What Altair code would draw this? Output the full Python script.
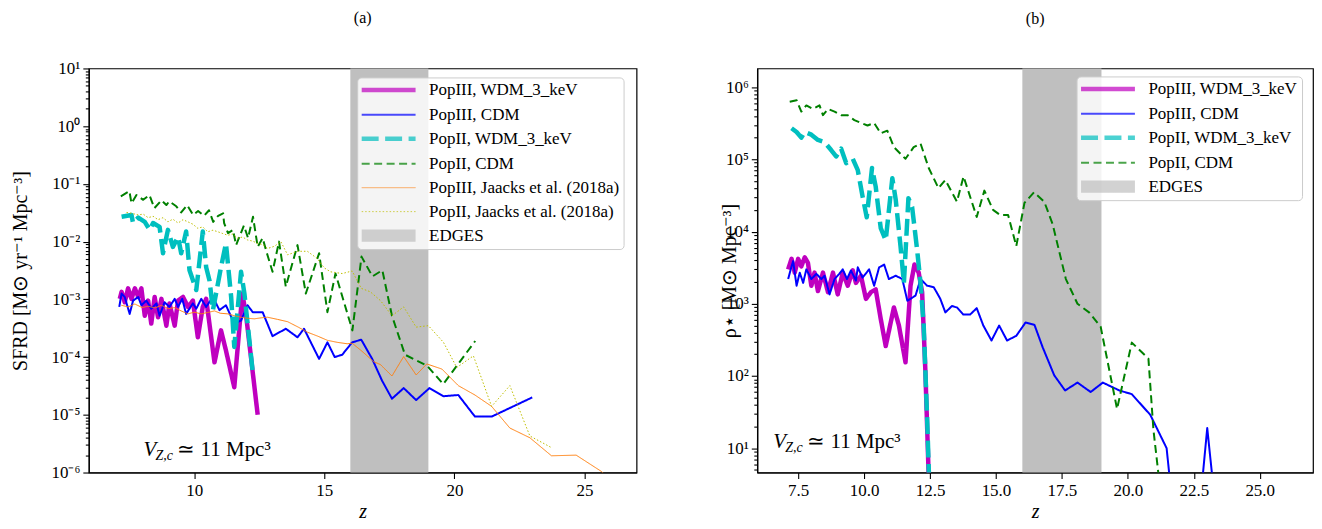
import altair as alt
import pandas as pd

FONT = "Liberation Serif"

# ---------------- panel (a): SFRD ----------------
a_names = ["PopIII, WDM_3_keV", "PopIII, CDM", "PopII, WDM_3_keV", "PopII, CDM",
           "PopIII, Jaacks et al. (2018a)", "PopII, Jaacks et al. (2018a)", "EDGES"]
a_colors = ["#bf00bf", "#0000ff", "#00bfbf", "#008000", "#ff7f0e", "#bfbf00", "#bfbfbf"]
a_dashes = [[1, 0], [1, 0], [17, 6.5], [8, 4.5], [1, 0], [1.5, 2], [1, 0]]
a_widths = [4.5, 2, 4.5, 2, 1, 1, 2.2]

a_p3wdm_z = [7.14, 7.21, 7.33, 7.46, 7.59, 7.72, 7.85, 7.97, 8.10, 8.23, 8.35, 8.48, 8.61, 8.74,
             8.93, 9.05, 9.25, 9.38, 9.57, 9.76, 9.95, 10.14, 10.33, 10.46, 10.78, 11.03, 11.22,
             11.54, 11.85, 12.00, 12.44]
a_p3wdm_v = [1.02e-3, 1.35e-3, 8.9e-4, 1.55e-3, 1.02e-3, 1.55e-3, 1.1e-3, 1.55e-3, 5.2e-4, 9.5e-4,
             3.8e-4, 1.1e-3, 4.9e-4, 1.02e-3, 3.5e-4, 8.5e-4, 3.5e-4, 9.5e-4, 1.1e-3, 7.4e-4,
             9.5e-4, 2.2e-4, 7.4e-4, 1.02e-3, 8.1e-5, 2.9e-4, 1.3e-4, 3.0e-5, 1.26e-3, 5.0e-4, 1.0e-5]

a_p3cdm_z = [7.12, 7.21, 7.33, 7.52, 7.65, 7.85, 7.97, 8.16, 8.35, 8.55, 8.67, 8.86, 9.05, 9.25,
             9.38, 9.54, 9.69, 9.95, 10.08, 10.27, 10.46, 10.72, 10.97, 11.22, 11.54, 11.80, 12.05,
             12.25, 12.63, 13.01, 13.52, 13.97, 14.22, 14.80, 15.12, 15.40, 15.69, 16.07, 16.42,
             16.84, 17.22, 17.60, 18.05, 18.53, 19.04, 19.58, 20.15, 20.79, 21.43, 22.99]
a_p3cdm_v = [7.4e-4, 1.26e-3, 1.1e-3, 5.6e-4, 9.5e-4, 1.1e-3, 7.9e-4, 9.5e-4, 6.9e-4, 8.5e-4,
             5.2e-4, 8.9e-4, 7.4e-4, 1.02e-3, 7.4e-4, 1.02e-3, 5.6e-4, 8.5e-4, 6.9e-4, 1.02e-3,
             7.4e-4, 1.1e-3, 6.5e-4, 7.9e-4, 3.8e-4, 4.3e-4, 7.9e-4, 6.0e-4, 6.0e-4, 2.3e-4,
             3.1e-4, 2.2e-4, 3.1e-4, 9.3e-5, 1.8e-4, 1.0e-4, 1.1e-4, 1.8e-4, 2.0e-4, 9.3e-5,
             3.9e-5, 1.9e-5, 2.9e-5, 1.8e-5, 2.9e-5, 2.1e-5, 2.2e-5, 9.3e-6, 9.3e-6, 2.0e-5]

a_p2wdm_z = [7.21, 7.59, 7.65, 7.85, 8.10, 8.29, 8.42, 8.67, 8.80, 8.99, 9.18, 9.38, 9.50, 9.69,
             9.82, 10.08, 10.33, 10.46, 10.59, 10.72, 11.03, 11.22, 11.42, 11.54, 11.80, 11.93, 12.25]
a_p2wdm_v = [2.7e-2, 2.9e-2, 2.1e-2, 2.6e-2, 2.2e-2, 1.6e-2, 2.1e-2, 1.8e-2, 6.3e-3, 1.6e-2,
             8.1e-3, 1.2e-2, 6.3e-3, 1.5e-2, 3.2e-3, 1.45e-3, 1.5e-2, 3.6e-3, 2.1e-3, 6.5e-4,
             3.6e-3, 9.3e-3, 1.1e-3, 1.5e-4, 3.0e-3, 1.26e-3, 5.5e-5]

a_p2cdm_z = [7.18, 7.51, 7.59, 7.78, 8.04, 8.28, 8.47, 8.74, 8.93, 9.04, 9.31, 9.50, 9.73, 9.96,
             10.15, 10.38, 10.57, 10.73, 10.92, 11.11, 11.15, 11.30, 11.49, 11.61, 11.91, 12.07,
             12.26, 12.44, 12.63, 12.76, 13.01, 13.26, 13.52, 13.97, 14.29, 14.80, 15.12, 15.43,
             16.08, 16.43, 16.85, 17.23, 17.60, 18.10, 18.95, 19.57, 20.80]
a_p2cdm_v = [0.061, 0.075, 0.046, 0.064, 0.053, 0.064, 0.038, 0.052, 0.043, 0.050, 0.041, 0.032,
             0.043, 0.029, 0.034, 0.028, 0.035, 0.022, 0.028, 0.031, 0.021, 0.014, 0.016, 0.0087,
             0.019, 0.0115, 0.027, 8.1e-3, 0.0115, 7.1e-3, 3.0e-3, 0.010, 1.66e-3, 8.7e-3, 1.26e-3,
             6.3e-3, 6.0e-4, 2.8e-3, 2.9e-4, 5.5e-3, 2.5e-3, 3.2e-3, 5.2e-4, 1.1e-4, 7.1e-5,
             3.4e-5, 1.9e-4]

a_p3j_z = [7.20, 7.46, 7.72, 8.00, 8.23, 8.50, 8.74, 9.00, 9.25, 9.50, 9.76, 10.00, 10.27, 10.50,
           10.78, 11.00, 11.29, 11.55, 11.80, 12.05, 12.31, 12.60, 12.82, 13.20, 13.59, 14.00,
           14.35, 14.75, 15.12, 15.50, 15.88, 16.07, 16.45, 16.90, 17.16, 17.60, 18.05, 18.53,
           18.94, 19.52, 20.15, 20.79, 21.43, 22.13, 22.90, 23.73, 24.68, 25.64, 26.20]
a_p3j_v = [7.9e-4, 7.4e-4, 8.3e-4, 7.2e-4, 7.6e-4, 7.1e-4, 7.9e-4, 6.9e-4, 7.2e-4, 6.3e-4,
           5.6e-4, 6.0e-4, 5.6e-4, 5.9e-4, 6.3e-4, 5.75e-4, 5.6e-4, 5.2e-4, 4.9e-4, 4.7e-4,
           4.6e-4, 4.8e-4, 4.9e-4, 4.5e-4, 4.1e-4, 3.3e-4, 2.7e-4, 2.3e-4, 1.95e-4, 1.8e-4,
           1.7e-4, 1.74e-4, 1.26e-4, 8.3e-5, 7.4e-5, 4.7e-5, 1.02e-4, 4.9e-5, 7.6e-5, 6.2e-5,
           3.2e-5, 2.2e-5, 1.4e-5, 5.9e-6, 4.0e-6, 1.95e-6, 2.0e-6, 1.05e-6, 6.3e-7]

a_p2j_z = [7.40, 7.59, 7.85, 8.04, 8.23, 8.42, 8.61, 8.80, 8.99, 9.18, 9.38, 9.57, 9.76, 9.95,
           10.14, 10.33, 10.52, 10.72, 10.91, 11.10, 11.29, 11.48, 11.67, 11.86, 12.05, 12.25,
           12.44, 12.63, 12.82, 13.08, 13.33, 13.59, 13.97, 14.35, 14.73, 15.00, 15.24, 15.69,
           16.07, 16.42, 16.77, 17.16, 17.60, 18.05, 18.53, 19.00, 19.58, 20.09, 20.73, 21.43,
           22.13, 22.90, 23.73]
a_p2j_v = [0.032, 0.031, 0.029, 0.030, 0.026, 0.0275, 0.024, 0.026, 0.022, 0.0245, 0.021, 0.024,
           0.022, 0.020, 0.017, 0.018, 0.0148, 0.0158, 0.0148, 0.0138, 0.0129, 0.0135, 0.0115,
           0.012, 0.0107, 0.0102, 9.3e-3, 8.9e-3, 7.6e-3, 8.3e-3, 0.010, 5.9e-3, 6.8e-3, 6.8e-3,
           5.1e-3, 3.5e-3, 3.0e-3, 2.8e-3, 3.1e-3, 1.55e-3, 1.35e-3, 9.5e-4, 5.2e-4, 7.4e-4,
           3.3e-4, 3.5e-4, 1.8e-4, 6.6e-5, 1.05e-4, 1.4e-5, 3.2e-5, 4.3e-6, 2.7e-6]

# ---------------- panel (b): stellar mass density ----------------
b_names = ["PopIII, WDM_3_keV", "PopIII, CDM", "PopII, WDM_3_keV", "PopII, CDM", "EDGES"]
b_colors = ["#bf00bf", "#0000ff", "#00bfbf", "#008000", "#bfbfbf"]
b_dashes = [[1, 0], [1, 0], [17, 6.5], [8, 4.5], [1, 0]]
b_widths = [4.5, 2, 4.5, 2, 2.2]

b_p3wdm_z = [7.12, 7.25, 7.37, 7.50, 7.62, 7.75, 7.87, 8.00, 8.12, 8.25, 8.44, 8.63, 8.82, 9.00,
             9.19, 9.38, 9.57, 9.69, 9.88, 10.07, 10.26, 10.44, 10.63, 10.82, 11.13, 11.32, 11.57,
             11.76, 11.91, 12.07, 12.20, 12.32, 12.45]
b_p3wdm_v = [3.0e3, 4.2e3, 2.7e3, 4.2e3, 3.3e3, 4.4e3, 3.7e3, 1.78e3, 2.7e3, 1.5e3, 2.7e3, 1.45e3,
             2.7e3, 1.35e3, 2.7e3, 1.78e3, 2.9e3, 1.95e3, 2.45e3, 1.17e3, 1.45e3, 1.58e3, 620, 260,
             890, 500, 155, 1.78e3, 3.5e3, 2.7e3, 1.45e3, 126, 4.0]

b_p3cdm_z = [7.12, 7.25, 7.31, 7.44, 7.56, 7.69, 7.81, 8.00, 8.19, 8.38, 8.50, 8.69, 8.88, 9.06,
             9.19, 9.35, 9.50, 9.69, 9.76, 9.94, 10.19, 10.38, 10.57, 10.76, 10.94, 11.20, 11.45,
             11.64, 11.95, 12.14, 12.39, 12.64, 12.89, 13.08, 13.33, 13.52, 13.76, 14.02, 14.27,
             14.52, 14.83, 15.12, 15.42, 15.77, 16.12, 16.46, 16.77, 17.21, 17.62, 18.09, 18.59,
             19.05, 19.68, 20.15, 20.85, 21.47, 21.75, 22.68, 23.01, 23.19, 23.30]
b_p3cdm_v = [2.2e3, 3.3e3, 3.9e3, 1.78e3, 2.7e3, 1.95e3, 3.0e3, 2.2e3, 2.6e3, 2.2e3, 2.45e3, 1.35e3,
             2.2e3, 2.6e3, 3.0e3, 2.2e3, 2.9e3, 2.1e3, 3.2e3, 2.3e3, 3.0e3, 1.78e3, 3.2e3, 3.5e3,
             2.2e3, 2.45e3, 2.2e3, 1.1e3, 1.3e3, 2.2e3, 1.78e3, 1.7e3, 1.17e3, 760, 930, 890, 710,
             710, 870, 500, 310, 500, 310, 360, 550, 510, 250, 102, 63, 81, 60, 81, 63, 56, 29, 10,
             1.0, 1.0, 19, 4.4, 1.5]

b_p2wdm_z = [7.25, 7.44, 7.62, 7.75, 8.00, 8.25, 8.50, 8.75, 8.94, 9.13, 9.32, 9.57, 9.76, 9.94,
             10.10, 10.30, 10.44, 10.63, 10.82, 11.07, 11.20, 11.38, 11.51, 11.68, 11.82, 12.01,
             12.14, 12.26, 12.39, 12.47]
b_p2wdm_v = [2.7e5, 2.4e5, 2.0e5, 2.4e5, 2.2e5, 1.86e5, 1.74e5, 1.35e5, 1.1e5, 1.41e5, 8.9e4,
             1.02e5, 7.1e4, 3.1e4, 1.58e4, 7.6e4, 4.2e4, 1.12e4, 7.6e3, 5.5e4, 2.75e4, 6.3e3,
             1.95e3, 2.9e4, 2.2e4, 5.6e3, 1.95e3, 500, 26, 3.2]

b_p2cdm_z = [7.18, 7.44, 7.62, 7.81, 8.06, 8.31, 8.44, 8.63, 8.88, 9.13, 9.38, 9.63, 9.88, 10.13,
             10.38, 10.63, 10.88, 11.13, 11.57, 11.88, 12.14, 12.45, 12.82, 13.08, 13.52, 13.77,
             14.27, 14.56, 14.89, 15.16, 15.46, 15.77, 16.08, 16.44, 16.83, 17.15, 17.65, 18.09,
             18.53, 18.97, 19.59, 20.15, 20.78, 20.97, 21.16, 21.30]
b_p2cdm_v = [6.3e5, 6.6e5, 4.6e5, 5.6e5, 5.0e5, 5.6e5, 4.1e5, 5.0e5, 4.6e5, 4.1e5, 4.1e5, 3.5e5,
             3.2e5, 2.95e5, 3.2e5, 2.3e5, 2.5e5, 1.48e5, 1.02e5, 1.48e5, 1.66e5, 7.6e4, 4.0e4,
             5.2e4, 2.6e4, 5.8e4, 1.6e4, 3.7e4, 2.0e4, 1.7e4, 1.7e4, 6.3e3, 2.5e4, 3.5e4, 2.6e4,
             1.26e4, 2.2e3, 1.0e3, 760, 480, 35, 290, 174, 18, 4.4, 1.5]

edges_z = [16.0, 19.0]
a_xticks = [10, 15, 20, 25]
b_xticks = [7.5, 10.0, 12.5, 15.0, 17.5, 20.0, 22.5, 25.0]
a_xdom, a_ydom = [5.95, 27.0], [1e-6, 10]
b_xdom, b_ydom = [5.95, 27.02], [4.6, 1.82e6]

LOG = "(log(datum.value)/LN10)"
DEC = f"abs({LOG} - round({LOG})) < 1e-6"
SUP = "['10⁻⁶','10⁻⁵','10⁻⁴','10⁻³','10⁻²','10⁻¹','10⁰','10¹','10²','10³','10⁴','10⁵','10⁶']"
LABEL_EXPR = f"{DEC} ? {SUP}[round({LOG}) + 6] : ''"

# legend swatches: a plain stroke for the lines, a stack of strokes (a filled box) for EDGES
SYM_LINE = "M-8,0H46"
SYM_BOX = "M-8,-5H46M-8,-3H46M-8,-1H46M-8,1H46M-8,3H46M-8,5H46"


def log_ticks(lo, hi):
    out = []
    for k in range(-7, 8):
        for m in range(1, 10):
            v = m * 10.0 ** k
            if lo <= v <= hi * 1.0000001:
                out.append(v)
    return out


def axis_common():
    return dict(labelFont=FONT, labelFontSize=17, labelColor="black", titleFont=FONT,
                titleFontSize=20, titleFontWeight="normal", titleColor="black",
                tickColor="black", domainColor="black", domainWidth=1.2, tickWidth=1.1,
                grid=False)


def make_panel(series, names, colors, dashes, widths, xdom, ydom, xticks, xfmt, ytitle,
               title, w, h, leg_xy, annot_xy, y_title_x, title_offset):
    xaxis = alt.Axis(title="z", values=xticks, format=xfmt, titleFontStyle="italic",
                     tickSize=6, labelPadding=4, titleY=39, titleBaseline="middle",
                     **axis_common())
    yaxis = alt.Axis(title=ytitle, values=log_ticks(ydom[0], ydom[1]), labelExpr=LABEL_EXPR,
                     labelOverlap=False, labelPadding=3, titleX=y_title_x, titleY=h / 2,
                     titleBaseline="middle", titleAlign="center", titleAngle=270,
                     tickSize={"condition": {"test": DEC, "value": 6}, "value": 3.5},
                     **axis_common())
    xs = alt.Scale(domain=xdom, nice=False, zero=False)
    ys = alt.Scale(type="log", domain=ydom, nice=False)
    legend = alt.Legend(
        title=None, orient="none", legendX=leg_xy[0], legendY=leg_xy[1],
        symbolType=SYM_LINE, symbolSize=4, symbolFillColor="transparent",
        labelFont=FONT, labelFontSize=17, labelColor="black", labelOffset=51,
        rowPadding=6.0, padding=4, fillColor="rgba(255,255,255,0.82)",
        strokeColor="#cccccc", cornerRadius=4, labelLimit=400)
    shapes = [SYM_BOX if n == "EDGES" else SYM_LINE for n in names]

    color = alt.Color("series:N", scale=alt.Scale(domain=names, range=colors), legend=legend)
    dash = alt.StrokeDash("series:N", scale=alt.Scale(domain=names, range=dashes), legend=legend)
    width = alt.StrokeWidth("series:N", scale=alt.Scale(type="ordinal", domain=names, range=widths),
                            legend=legend)
    shape = alt.Shape("series:N", scale=alt.Scale(domain=names, range=shapes), legend=legend)

    band = alt.Chart(pd.DataFrame({"z0": [edges_z[0]], "z1": [edges_z[1]]})).mark_rect(
        color="#bfbfbf").encode(x=alt.X("z0:Q", scale=xs, axis=xaxis), x2="z1:Q")

    layers = [band]
    for (z, v, name) in series:
        df = pd.DataFrame({"z": z, "v": v, "series": name})
        layers.append(alt.Chart(df).mark_line(clip=True, strokeJoin="round").encode(
            x=alt.X("z:Q", scale=xs, axis=xaxis),
            y=alt.Y("v:Q", scale=ys, axis=yaxis),
            color=color, strokeDash=dash, strokeWidth=width,
        ))

    # legend-only layer (all rows filtered out) that carries the swatch shapes
    key_df = pd.DataFrame({"z": [xdom[0]], "v": [ydom[0]], "series": [names[0]]})
    key = alt.Chart(key_df).mark_point(filled=False).encode(
        x=alt.X("z:Q", scale=xs, axis=xaxis), y=alt.Y("v:Q", scale=ys, axis=yaxis),
        color=color, strokeDash=dash, strokeWidth=width, shape=shape,
    ).transform_filter("false")
    layers.append(key)

    ax, ay = annot_xy
    t1 = alt.Chart().mark_text(text="V", font=FONT, fontSize=21, fontStyle="italic",
                               align="left", baseline="alphabetic", color="black").encode(
        x=alt.datum(ax), y=alt.datum(ay))
    t2 = alt.Chart().mark_text(text="Z,c", font=FONT, fontSize=14, fontStyle="italic",
                               align="left", baseline="alphabetic", color="black", dx=12, dy=4).encode(
        x=alt.datum(ax), y=alt.datum(ay))
    t3 = alt.Chart().mark_text(text="≃ 11 Mpc³", font=FONT, fontSize=21,
                               align="left", baseline="alphabetic", color="black", dx=34).encode(
        x=alt.datum(ax), y=alt.datum(ay))
    layers += [t1, t2, t3]

    return alt.layer(*layers).properties(
        width=w, height=h,
        title=alt.Title(title, font=FONT, fontSize=16, fontWeight="normal", color="black",
                        offset=title_offset))


panel_a = make_panel(
    [(a_p3wdm_z, a_p3wdm_v, a_names[0]), (a_p3cdm_z, a_p3cdm_v, a_names[1]),
     (a_p2wdm_z, a_p2wdm_v, a_names[2]), (a_p2cdm_z, a_p2cdm_v, a_names[3]),
     (a_p3j_z, a_p3j_v, a_names[4]), (a_p2j_z, a_p2j_v, a_names[5])],
    a_names, a_colors, a_dashes, a_widths, a_xdom, a_ydom, a_xticks, "d",
    "SFRD [M⊙ yr⁻¹ Mpc⁻³]", "(a)", 549, 405, (269, 9), (8.05, 1.9e-6), -68, 33.5)

panel_b = make_panel(
    [(b_p3wdm_z, b_p3wdm_v, b_names[0]), (b_p3cdm_z, b_p3cdm_v, b_names[1]),
     (b_p2wdm_z, b_p2wdm_v, b_names[2]), (b_p2cdm_z, b_p2cdm_v, b_names[3])],
    b_names, b_colors, b_dashes, b_widths, b_xdom, b_ydom, b_xticks, ".1f",
    "ρ⋆ [M⊙ Mpc⁻³]", "(b)", 557, 405, (320, 8), (6.56, 10), -28, 42)

chart = alt.hconcat(panel_a, panel_b, spacing=81).resolve_scale(
    x="independent", y="independent", color="independent",
    strokeDash="independent", strokeWidth="independent", shape="independent"
).properties(padding={"left": 2, "top": 0, "right": 0, "bottom": 0}).configure_view(
    stroke="black", strokeWidth=1.2)

chart.save("out.html", embed_options={"renderer": "svg", "actions": False})
